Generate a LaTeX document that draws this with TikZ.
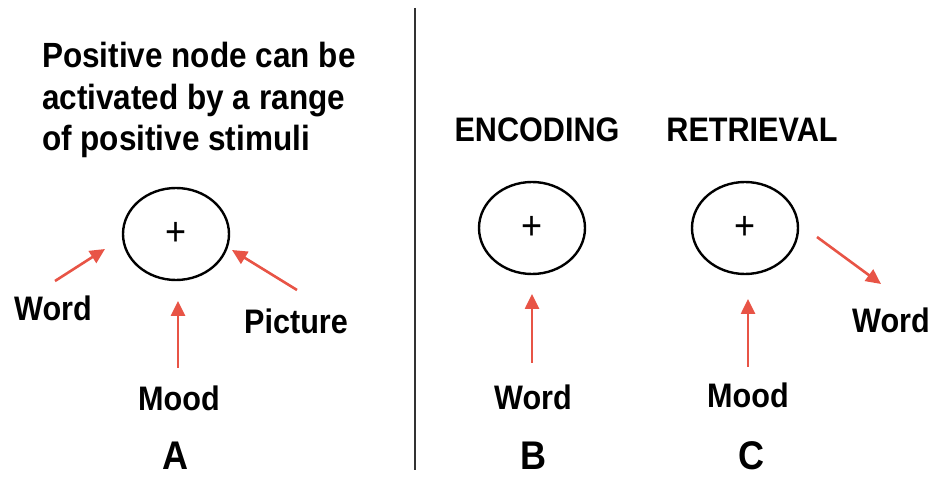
\documentclass[tikz,border=0pt]{standalone}
\usepackage{fontspec}
\setmainfont[FakeStretch=0.9]{Liberation Sans}
\usetikzlibrary{arrows.meta,shapes.geometric}
\definecolor{arrred}{RGB}{232,84,70}
\begin{document}
\begin{tikzpicture}[x=1pt,y=-1pt,
  lbl/.style={font=\fontsize{34}{40}\selectfont\bfseries, inner sep=0pt},
  ttl/.style={font=\fontsize{35}{41}\selectfont\bfseries, inner sep=0pt},
  big/.style={font=\fontsize{40}{46}\selectfont\bfseries, inner sep=0pt},
  unit/.style={draw=black, line width=2.4pt, ellipse, minimum width=106pt, minimum height=92pt, inner sep=0pt, font=\fontsize{40}{44}\selectfont},
  act/.style={draw=arrred, line width=2.6pt, -{Triangle[length=15pt,width=14pt]}},
  divider/.style={draw=black!80, line width=2pt}
]
\useasboundingbox (0,0) rectangle (932,478);
% title
\node[ttl, anchor=base west] (t1) at (42,68) {Positive node can be};
\node[ttl, anchor=base west] (t2) at (42,110) {activated by a range};
\node[ttl, anchor=base west] (t3) at (42,151) {of positive stimuli};
% divider
\coordinate (d0) at (415,8);
\coordinate (d1) at (415,470);
\draw[divider] (d0) -- (d1);
% units
\node[unit] (nA) at (176,234) {+};
\node[unit] (nB) at (532,228) {+};
\node[unit] (nC) at (745,228) {+};
% labels
\node[lbl] (wordA) at (53,308) {Word};
\node[lbl] (picA) at (296,321) {Picture};
\node[lbl] (moodA) at (179,398) {Mood};
\node[big] (lA) at (175,456) {A};
\node[lbl] (enc) at (537,130) {ENCODING};
\node[lbl] (ret) at (752,130) {RETRIEVAL};
\node[lbl] (wordB) at (533,397) {Word};
\node[lbl] (moodC) at (748,395) {Mood};
\node[lbl] (wordC) at (891,320) {Word};
\node[big] (lB) at (533,456) {B};
\node[big] (lC) at (751,456) {C};
% arrows
\coordinate (wA0) at (55,281);  \coordinate (wA1) at (105,249);
\coordinate (pA0) at (297,290); \coordinate (pA1) at (232,250);
\coordinate (mA0) at (178,368); \coordinate (mA1) at (178,301);
\coordinate (wB0) at (532,363); \coordinate (wB1) at (532,294);
\coordinate (mC0) at (748,367); \coordinate (mC1) at (748,299);
\coordinate (wC0) at (817,237); \coordinate (wC1) at (881,284);
\draw[act] (wA0) -- (wA1);
\draw[act] (pA0) -- (pA1);
\draw[act] (mA0) -- (mA1);
\draw[act] (wB0) -- (wB1);
\draw[act] (mC0) -- (mC1);
\draw[act] (wC0) -- (wC1);
\end{tikzpicture}
\end{document}
